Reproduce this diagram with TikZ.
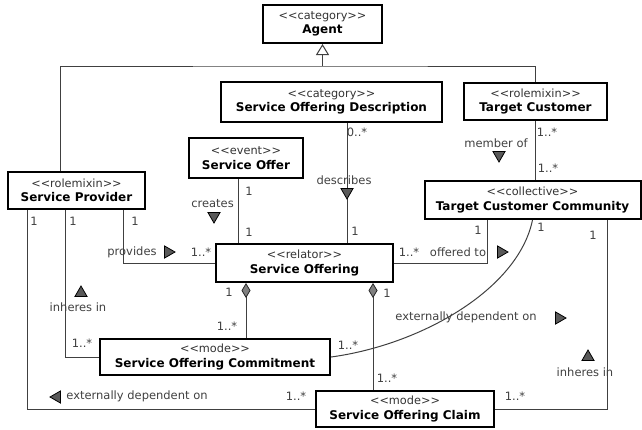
\documentclass[tikz,border=0pt]{standalone}
\usepackage{fontspec}
\setmainfont{DejaVu Sans}
\usetikzlibrary{arrows.meta,shapes.geometric}

\tikzset{every picture/.style={line width=1pt}}
\tikzset{
  umlclass/.style={draw=black, line width=2pt, fill=white, inner sep=0pt, align=center, font=\fontsize{12}{14.5}\selectfont},
  conn/.style={draw=black!75, line width=1pt},
  comp/.style={conn, {Diamond[fill=black!50, color=black!85, length=15pt, width=9pt, line width=0.8pt]}-},
  lbl/.style={text=black!75, inner sep=1pt, font=\fontsize{11.5}{13}\selectfont},
  readdir/.style={regular polygon, regular polygon sides=3, regular polygon rotate=#1, draw=black, fill=black!65, line width=0.8pt, minimum size=14pt, inner sep=0pt},
}
\newcommand{\stereo}[1]{{\color{black!80}\fontsize{11.3}{14.5}\selectfont{<}{<}#1{>}{>}}}

\begin{document}
\begin{tikzpicture}[x=1pt,y=1pt,yscale=-1,xscale=1]
	\useasboundingbox (0,0) rectangle (642,429);

	%Shape: Class boxes
	\node[umlclass, minimum width=119, minimum height=38] (agent) at (322.5,24) {\stereo{category}\\\textbf{Agent}};
	\node[umlclass, minimum width=221, minimum height=40] (sod) at (331.5,102) {\stereo{category}\\\textbf{Service Offering Description}};
	\node[umlclass, minimum width=143, minimum height=37] (tcust) at (535.5,101.5) {\stereo{rolemixin}\\\textbf{Target Customer}};
	\node[umlclass, minimum width=114, minimum height=40] (soffer) at (246,158) {\stereo{event}\\\textbf{Service Offer}};
	\node[umlclass, minimum width=137, minimum height=37] (sprov) at (76.5,190.5) {\stereo{rolemixin}\\\textbf{Service Provider}};
	\node[umlclass, minimum width=216, minimum height=38] (tcc) at (532.5,200) {\stereo{collective}\\\textbf{Target Customer Community}};
	\node[umlclass, minimum width=177, minimum height=38] (soff) at (304.5,263) {\stereo{relator}\\\textbf{Service Offering}};
	\node[umlclass, minimum width=230, minimum height=36] (socommit) at (215,357) {\stereo{mode}\\\textbf{Service Offering Commitment}};
	\node[umlclass, minimum width=178, minimum height=36] (soclaim) at (405,409) {\stereo{mode}\\\textbf{Service Offering Claim}};

	%Generalization
	\coordinate (gjoin) at (322.5,66);
	\draw[conn] ([xshift=-16.5]sprov.north) |- (gjoin) -| (tcust.north);
	\draw[conn, -{Triangle[open, length=11pt, width=13pt, fill=white]}] (gjoin) -- (agent.south);

	%Straight Lines
	\draw[conn] ([xshift=-8]soffer.south) -- ([xshift=-8]soffer.south |- soff.north);
	\draw[conn] ([xshift=15.5]sod.south) -- ([xshift=15.5]sod.south |- soff.north);
	\draw[conn] (tcust.south) -- (tcust.south |- tcc.north);
	\draw[conn] ([xshift=46.5]sprov.south) |- (soff.west);
	\draw[conn] (soff.east) -| ([xshift=-45.5]tcc.south);
	\draw[conn] ([xshift=-11.5]sprov.south) |- (socommit.west);
	\draw[conn] ([xshift=-49.5]sprov.south) |- (soclaim.west);
	\draw[conn] ([xshift=74.5]tcc.south) |- (soclaim.east);
	%Compositions
	\draw[comp] ([xshift=-58.5]soff.south) -- ([xshift=-58.5]soff.south |- socommit.north);
	\draw[comp] ([xshift=68.5]soff.south) -- ([xshift=68.5]soff.south |- soclaim.north);
	%Curve Lines
	\draw[conn] (tcc.south) .. controls (518,290) and (420,345) .. (socommit.east);

	% Text Node
	\node[lbl] (creA) at (249,191) {1};
	\node[lbl] (creB) at (249,232) {1};
	\node[lbl] (creT) at (212.5,204) {creates};
	\node[readdir=180] (creD) at (214,216) {};
	% Text Node
	\node[lbl] (desA) at (357,132) {0..*};
	\node[lbl] (desT) at (344,180) {describes};
	\node[readdir=180] (desD) at (347,192) {};
	\node[lbl] (desB) at (355,231) {1};
	% Text Node
	\node[lbl] (memA) at (547,132) {1..*};
	\node[lbl] (memT) at (496,143) {member of};
	\node[readdir=180] (memD) at (499,155) {};
	\node[lbl] (memB) at (548,168) {1..*};
	% Text Node
	\node[lbl] (proA) at (135,221) {1};
	\node[lbl] (proT) at (132,252) {provides};
	\node[readdir=-90] (proD) at (168,252) {};
	\node[lbl] (proB) at (201,252) {1..*};
	% Text Node
	\node[lbl] (offA) at (409,252) {1..*};
	\node[lbl] (offT) at (458,252) {offered to};
	\node[readdir=-90] (offD) at (501,252) {};
	\node[lbl] (offB) at (478,230) {1};
	% Text Node
	\node[lbl] (inhA) at (73,221) {1};
	\node[readdir=0] (inhD) at (81,293) {};
	\node[lbl] (inhT) at (78,307) {inheres in};
	\node[lbl] (inhB) at (82,343) {1..*};
	% Text Node
	\node[lbl] (extA) at (34,221) {1};
	\node[readdir=90] (extD) at (57,397) {};
	\node[lbl] (extT) at (137,396) {externally dependent on};
	\node[lbl] (extB) at (296,396) {1..*};
	% Text Node
	\node[lbl] (cmpA) at (229,292) {1};
	\node[lbl] (cmpB) at (227,326) {1..*};
	\node[lbl] (clmA) at (387,293) {1};
	\node[lbl] (clmB) at (387,378) {1..*};
	% Text Node
	\node[lbl] (curA) at (541,227) {1};
	\node[lbl] (curT) at (466,317) {externally dependent on};
	\node[readdir=-90] (curD) at (559,318) {};
	\node[lbl] (curB) at (348,345) {1..*};
	% Text Node
	\node[lbl] (rinA) at (593,235) {1};
	\node[readdir=0] (rinD) at (588,357) {};
	\node[lbl] (rinT) at (585,372) {inheres in};
	\node[lbl] (rinB) at (515,396) {1..*};

\end{tikzpicture}
\end{document}
